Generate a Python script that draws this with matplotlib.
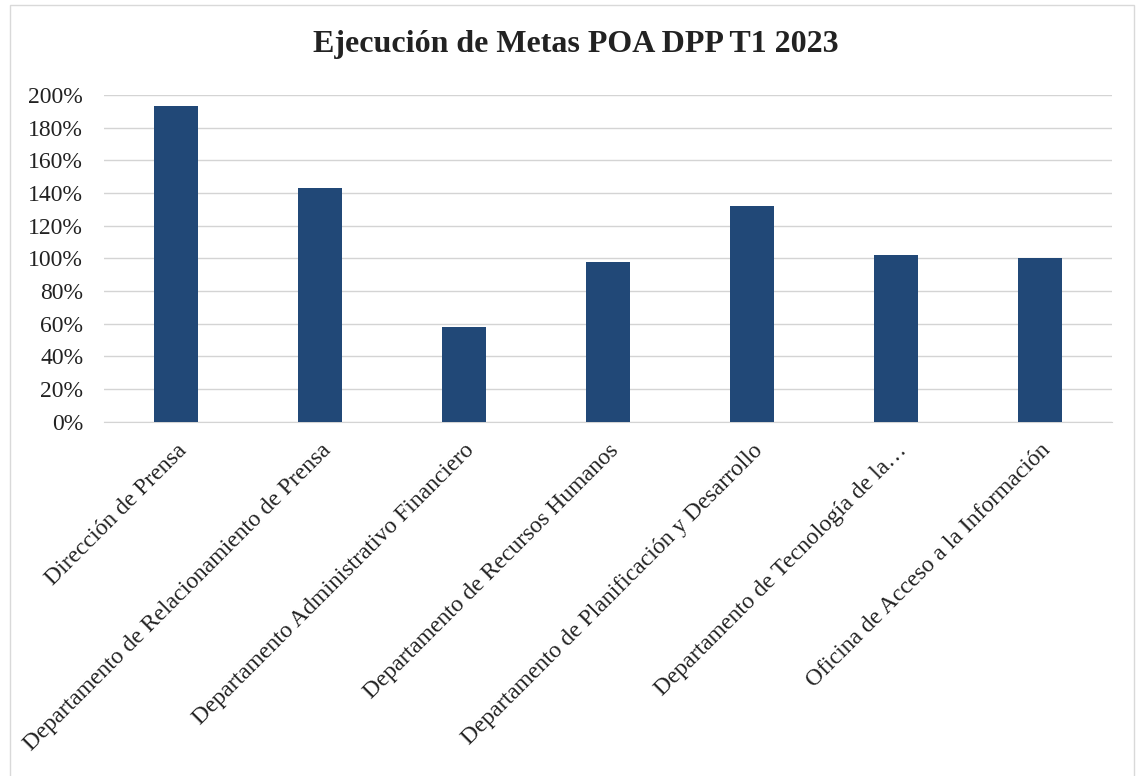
import numpy as np
import matplotlib
matplotlib.use("Agg")
import matplotlib.pyplot as plt
from matplotlib.patches import Rectangle
from matplotlib.ticker import FuncFormatter

# Data
departamentos = [
    "Dirección de Prensa",
    "Departamento de Relacionamiento de Prensa",
    "Departamento Administrativo Financiero",
    "Departamento de Recursos Humanos",
    "Departamento de Planificación y Desarrollo",
    "Departamento de Tecnología de la…",
    "Oficina de Acceso a la Información",
]
ejecucion = [1.93, 1.43, 0.58, 0.98, 1.32, 1.02, 1.00]
yticks = np.arange(0, 2.01, 0.2)

plt.rcParams["font.family"] = ["Liberation Serif", "DejaVu Serif"]

fig = plt.figure(figsize=(11.37, 7.76), dpi=100)
ax = fig.add_axes([0.0915, 0.4566, 0.8865, 0.421])

x = np.arange(len(departamentos))
ax.bar(x, ejecucion, width=0.31, color="#214877", zorder=3)

ax.set_xlim(-0.5, len(departamentos) - 0.5)
ax.set_ylim(0, 2.0)
ax.set_yticks(yticks)
ax.yaxis.set_major_formatter(FuncFormatter(lambda v, p: "{:.0f}%".format(v * 100)))
ax.grid(axis="y", color="#d4d4d4", linewidth=1.0, zorder=0)
ax.set_xticks(x)
ax.set_xticklabels(departamentos, rotation=45, ha="right", rotation_mode="anchor")
ax.tick_params(axis="both", length=0, labelsize=17, colors="#222222")
ax.tick_params(axis="y", pad=15)
ax.tick_params(axis="x", pad=13)
for s in ["top", "right", "left"]:
    ax.spines[s].set_visible(False)
ax.spines["bottom"].set_color("#d4d4d4")

fig.text(0.506, 0.943, "Ejecución de Metas POA DPP T1 2023", ha="center", va="center",
         fontsize=23, fontweight="bold", color="#222222")

# Thin frame around the chart area
fig.patches.append(Rectangle((10 / 1137, -0.01), 1124 / 1137, 1.004, transform=fig.transFigure,
                             fill=False, edgecolor="#d9d9d9", linewidth=1.0))

fig.savefig("out.png", dpi=100)
